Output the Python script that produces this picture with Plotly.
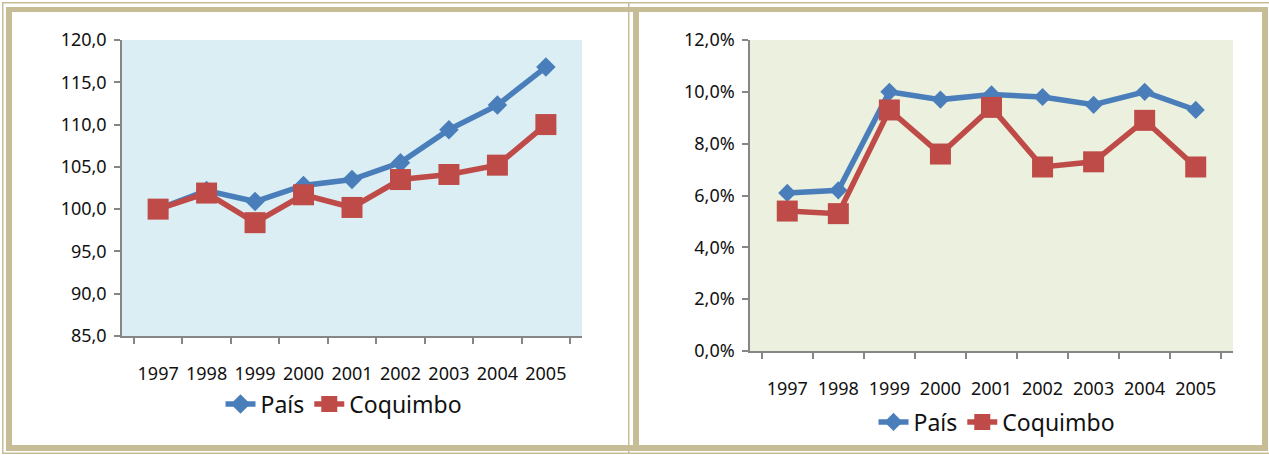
import plotly.graph_objects as go

W, H = 1269, 455

# Data.
years = ["1997", "1998", "1999", "2000", "2001", "2002", "2003", "2004", "2005"]
index_pais = [100.0, 102.2, 100.9, 102.8, 103.5, 105.5, 109.4, 112.3, 116.8]
index_coquimbo = [100.0, 101.9, 98.4, 101.7, 100.2, 103.5, 104.1, 105.2, 110.0]
rate_pais = [0.061, 0.062, 0.100, 0.097, 0.099, 0.098, 0.095, 0.100, 0.093]
rate_coquimbo = [0.054, 0.053, 0.093, 0.076, 0.094, 0.071, 0.073, 0.089, 0.071]

blue = "#4a7ebb"
red = "#be4b48"
frame = "#c6bd97"
font = "Noto Sans"


def px_x(x):
    return x / W


def px_y(y):
    return 1 - y / H


def rect(x0, y0, x1, y1, color):
    return dict(type="rect", xref="paper", yref="paper",
                x0=px_x(x0), x1=px_x(x1), y0=px_y(y1), y1=px_y(y0),
                line=dict(width=0), fillcolor=color, layer="below")


fig = go.Figure()

series = [
    (index_pais, "País", blue, "diamond", 15, "x", "y", "legend"),
    (index_coquimbo, "Coquimbo", red, "square", 21, "x", "y", "legend"),
    (rate_pais, "País", blue, "diamond", 14, "x2", "y2", "legend2"),
    (rate_coquimbo, "Coquimbo", red, "square", 21, "x2", "y2", "legend2"),
]
for vals, name, color, symbol, size, xa, ya, leg in series:
    fig.add_trace(go.Scatter(
        x=years, y=vals, name=name, mode="lines+markers",
        line=dict(color=color, width=5.5),
        marker=dict(symbol=symbol, size=size, color=color),
        xaxis=xa, yaxis=ya, legend=leg,
    ))

axis_kw = dict(showline=True, linecolor="#868686", linewidth=1.5,
               ticks="outside", ticklen=6, tickcolor="#868686", tickwidth=1.5,
               showgrid=False, zeroline=False, automargin=False,
               tickfont=dict(family=font, size=18, color="#111111"))

legend_kw = dict(orientation="h", xanchor="center", yanchor="middle",
                 font=dict(family=font, size=23, color="#111111"),
                 bgcolor="rgba(0,0,0,0)", entrywidth=0)

fig.update_layout(
    template="none",
    xaxis=dict(domain=[px_x(122), px_x(582)], anchor="y", type="category",
               tickson="boundaries", tickangle=0, ticklabelstandoff=21, **axis_kw),
    yaxis=dict(domain=[px_y(336), px_y(40)], anchor="x", range=[85, 120],
               dtick=5, tickformat=".1f", ticklabelstandoff=4, **axis_kw),
    xaxis2=dict(domain=[px_x(750), px_x(1233)], anchor="y2", type="category",
                tickson="boundaries", tickangle=0, ticklabelstandoff=21, **axis_kw),
    yaxis2=dict(domain=[px_y(351), px_y(40)], anchor="x2", range=[0, 0.12],
                dtick=0.02, tickformat=".1%", ticklabelstandoff=4, **axis_kw),
    separators=",.",
    showlegend=True,
    legend=dict(x=px_x(344), y=px_y(404), **legend_kw),
    legend2=dict(x=px_x(997), y=px_y(422), **legend_kw),
    width=W, height=H,
    margin=dict(l=0, r=0, t=0, b=0),
    paper_bgcolor="white", plot_bgcolor="rgba(0,0,0,0)",
    font=dict(family=font),
)

shapes = [
    # Plot area backgrounds.
    dict(type="rect", xref="x domain", yref="y domain", x0=0, x1=1, y0=0, y1=1,
         fillcolor="#dbeef3", line=dict(width=0), layer="below"),
    dict(type="rect", xref="x2 domain", yref="y2 domain", x0=0, x1=1, y0=0, y1=1,
         fillcolor="#ebf1de", line=dict(width=0), layer="below"),
    # Thin outer frame lines.
    rect(2, 2, W, 3.5, frame),
    rect(2, 452.5, W, 454, frame),
    rect(2, 2, 3.5, 454, frame),
    rect(628, 2, 629.5, 454, frame),
    # Thick frame lines.
    rect(6, 7, 1268, 12, frame),
    rect(6, 445, 1268, 451, frame),
    rect(6, 7, 12, 451, frame),
    rect(633, 7, 639, 451, frame),
    rect(1262, 7, 1268, 451, frame),
]
fig.update_layout(shapes=shapes)

fig.write_html("out.html", config={"displayModeBar": False},
               post_script="document.body.style.margin='0';")
